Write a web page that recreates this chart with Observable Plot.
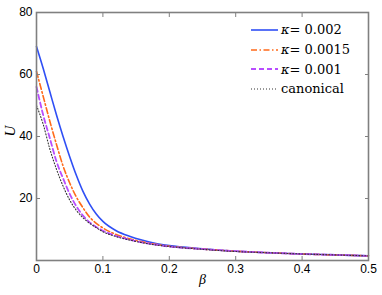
<!DOCTYPE html>
<html>
<head>
<meta charset="utf-8">
<script src="https://cdn.jsdelivr.net/npm/d3@7"></script>
<script src="https://cdn.jsdelivr.net/npm/@observablehq/plot@0.6"></script>
<style>
  body { margin: 0; background: #fff; }
  #wrap { position: relative; width: 382px; height: 295px; }
  #legend { position: absolute; left: 251px; top: 20px; font-family: "DejaVu Serif", serif; font-size: 13px; color: #000; }
  #legend .row { display: flex; align-items: center; height: 19.7px; }
  #legend svg { width: 27px; height: 8px; margin-right: 3px; }
</style>
</head>
<body>
<div id="wrap"></div>
<script>
const beta = [0, 0.01, 0.02, 0.03, 0.04, 0.05, 0.06, 0.07, 0.08, 0.09, 0.1, 0.12, 0.14, 0.16, 0.18, 0.2, 0.25, 0.3, 0.35, 0.4, 0.45, 0.5];
const uK002  = [69, 62, 54.5, 47, 40, 33.5, 27.5, 22.3, 18.2, 15.0, 12.6, 9.6, 7.8, 6.5, 5.5, 4.8, 3.8, 3.0, 2.5, 2.1, 1.8, 1.5];
const uK0015 = [61, 53, 45, 37.5, 30.5, 25, 20.5, 17, 14, 12, 10.5, 8.4, 7.0, 6.0, 5.2, 4.6, 3.7, 3.0, 2.5, 2.1, 1.8, 1.5];
const uK001  = [56, 47, 39.5, 32, 26.5, 21.5, 17.5, 14.5, 12.3, 10.8, 9.6, 7.9, 6.7, 5.8, 5.1, 4.5, 3.7, 3.0, 2.5, 2.1, 1.8, 1.5];
const uCanon = [50, 44, 36, 29.5, 24, 19.5, 16.2, 13.8, 12, 10.6, 9.3, 7.7, 6.6, 5.7, 5.0, 4.5, 3.6, 2.9, 2.5, 2.1, 1.8, 1.5];
const seriesNames = ["κ= 0.002", "κ= 0.0015", "κ= 0.001", "canonical"];
const seriesColors = ["#2f4ff5", "#ff6a1a", "#b84dff", "#333333"];
const seriesDash = [null, "6,2.5,1.5,2.5", "5,3", "1,2"];
const seriesWidth = [1.6, 1.6, 1.8, 1.1];
const xTicks = [0, 0.1, 0.2, 0.3, 0.4, 0.5];
const yTicks = [20, 40, 60, 80];

const allSeries = [uK002, uK0015, uK001, uCanon];
const tables = allSeries.map(vals => beta.map((b, i) => ({beta: b, u: vals[i]})));

const chart = Plot.plot({
  width: 382,
  height: 295,
  marginLeft: 36,
  marginRight: 14,
  marginTop: 12,
  marginBottom: 35,
  style: {fontFamily: "Liberation Sans, Arial, sans-serif", fontSize: "12px", color: "#000", background: "#fff"},
  x: {domain: [0, 0.5]},
  y: {domain: [0, 80]},
  marks: [
    ...tables.map((t, i) => Plot.line(t, {
      x: "beta", y: "u", stroke: seriesColors[i], strokeWidth: seriesWidth[i],
      strokeDasharray: seriesDash[i], curve: "monotone-x"
    })),
    Plot.frame({stroke: "#808080", strokeWidth: 1.6}),
    Plot.axisX(xTicks, {anchor: "bottom", tickSize: -4, stroke: "#808080", tickPadding: 8, label: null, tickFormat: d => d === 0 ? "0" : d3.format(".1f")(d), fill: "#000", fontSize: 12}),
    Plot.axisX(xTicks, {anchor: "top", tickSize: -4, stroke: "#808080", label: null, tickFormat: () => ""}),
    Plot.axisY(yTicks, {anchor: "left", tickSize: -4, stroke: "#808080", tickPadding: 8, label: null, fill: "#000", fontSize: 12}),
    Plot.axisY(yTicks, {anchor: "right", tickSize: -4, stroke: "#808080", label: null, tickFormat: () => ""}),
    Plot.text(["U"], {frameAnchor: "left", dx: -26, rotate: -90, fontStyle: "italic", fontFamily: "Liberation Serif, serif", fontSize: 15}),
    Plot.text(["β"], {frameAnchor: "bottom", dy: 23, fontStyle: "italic", fontFamily: "Liberation Serif, serif", fontSize: 14})
  ]
});
const wrap = document.getElementById("wrap");
wrap.appendChild(chart);

const legend = document.createElement("div");
legend.id = "legend";
seriesNames.forEach((name, i) => {
  const row = document.createElement("div");
  row.className = "row";
  const dash = seriesDash[i] ? `stroke-dasharray="${seriesDash[i]}"` : "";
  const label = name.startsWith("κ") ? `<i>κ</i>${name.slice(1)}` : name;
  row.innerHTML = `<svg viewBox="0 0 27 8"><line x1="0" y1="4" x2="27" y2="4" stroke="${seriesColors[i]}" stroke-width="${seriesWidth[i]}" ${dash}/></svg><span>${label}</span>`;
  legend.appendChild(row);
});
wrap.appendChild(legend);
</script>
</body>
</html>
